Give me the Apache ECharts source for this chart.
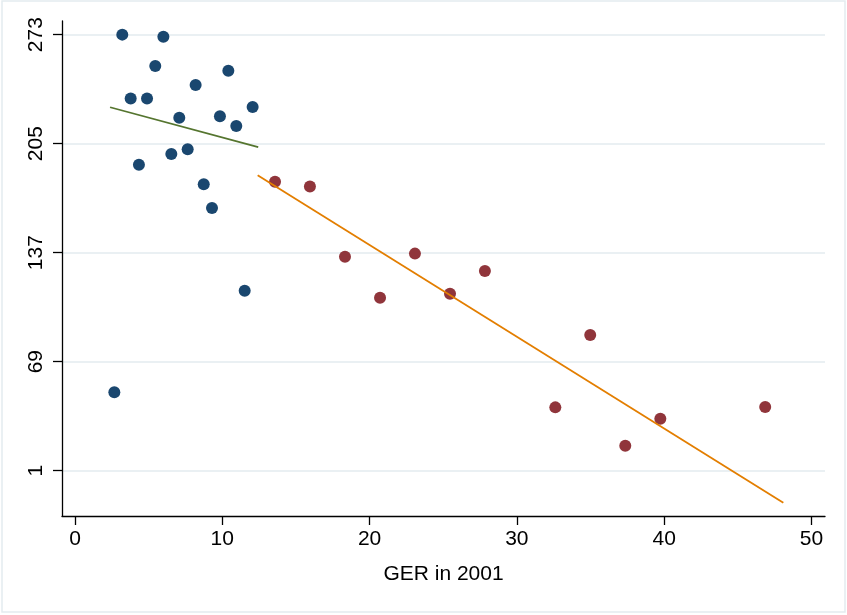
<!DOCTYPE html>
<html>
<head>
<meta charset="utf-8">
<script src="https://cdn.jsdelivr.net/npm/echarts@6/dist/echarts.min.js"></script>
<style>
html,body{margin:0;padding:0;background:#fff;}
#chart{width:847px;height:615px;}
</style>
</head>
<body>
<div id="chart"></div>
<script>
// Group 1 (blue) points: [GER in 2001, rank]
const blueX = [3.21, 6.00, 5.45, 10.41, 8.19, 3.78, 4.89, 12.06, 7.08, 9.84, 10.95, 7.65, 6.54, 4.34, 8.74, 9.30, 11.52, 2.67];
const blueY = [273.0, 271.7, 253.5, 250.5, 241.6, 233.1, 233.1, 227.9, 221.2, 222.1, 216.0, 201.5, 198.6, 191.9, 179.7, 164.9, 113.3, 49.9];
// Group 2 (red) points
const redX = [13.58, 15.95, 18.33, 20.71, 23.08, 25.46, 27.83, 32.61, 34.98, 37.36, 39.74, 46.86];
const redY = [181.3, 178.2, 134.5, 108.9, 136.4, 111.4, 125.6, 40.5, 85.7, 16.6, 33.4, 40.7];
// Fitted lines (endpoints)
const greenFitX = [2.38, 12.44];
const greenFitY = [227.7, 202.9];
const orangeFitX = [12.40, 48.09];
const orangeFitY = [185.3, -19.0];
// Tick labels
const xTicks = [0, 10, 20, 30, 40, 50];
const yTicks = [1, 69, 137, 205, 273];
const xTitle = 'GER in 2001';

const zip = (a, b) => a.map((v, i) => [v, b[i]]);
const font = "'Liberation Sans', Arial, sans-serif";

const chart = echarts.init(document.getElementById('chart'), null, {renderer: 'canvas'});
chart.setOption({
  animation: false,
  backgroundColor: '#ffffff',
  graphic: [{
    type: 'rect',
    shape: {x: 2, y: 1, width: 843, height: 611},
    style: {fill: 'none', stroke: '#e4ecef', lineWidth: 1.5},
    silent: true
  }],
  grid: {left: 62, right: 22, top: 21, bottom: 99},
  xAxis: {
    type: 'value',
    min: -0.883, max: 50.92,
    name: xTitle,
    nameLocation: 'middle',
    nameGap: 48,
    nameTextStyle: {fontFamily: font, fontSize: 21, color: '#000'},
    axisLine: {show: true, onZero: false, lineStyle: {color: '#000', width: 1.3}},
    axisTick: {show: true, length: 9, customValues: xTicks, lineStyle: {color: '#000', width: 1.3}},
    axisLabel: {customValues: xTicks, margin: 13, fontFamily: font, fontSize: 21, color: '#000'},
    splitLine: {show: false}
  },
  yAxis: {
    type: 'value',
    min: -27.26, max: 281.5,
    axisLine: {show: true, onZero: false, lineStyle: {color: '#000', width: 1.3}},
    axisTick: {show: true, length: 9, customValues: yTicks, lineStyle: {color: '#000', width: 1.3}},
    axisLabel: {customValues: yTicks, rotate: 90, margin: 15, fontFamily: font, fontSize: 21, color: '#000'},
    splitLine: {show: false}
  },
  series: [
    {
      type: 'scatter', data: [], z: 0, silent: true,
      markLine: {
        z: 0, silent: true, symbol: 'none', label: {show: false},
        lineStyle: {color: '#eaf0f3', width: 2, type: 'solid'},
        data: yTicks.map(v => ({yAxis: v}))
      }
    },
    {
      type: 'scatter', data: zip(blueX, blueY), symbolSize: 12, z: 3,
      itemStyle: {color: '#1a476f', opacity: 1}
    },
    {
      type: 'scatter', data: zip(redX, redY), symbolSize: 12, z: 3,
      itemStyle: {color: '#90353b', opacity: 1}
    },
    {
      type: 'line', data: zip(greenFitX, greenFitY), showSymbol: false, symbol: 'none', z: 4,
      lineStyle: {color: '#55752f', width: 1.8}
    },
    {
      type: 'line', data: zip(orangeFitX, orangeFitY), showSymbol: false, symbol: 'none', z: 4,
      lineStyle: {color: '#e37e00', width: 1.8}
    }
  ]
});
</script>
</body>
</html>
